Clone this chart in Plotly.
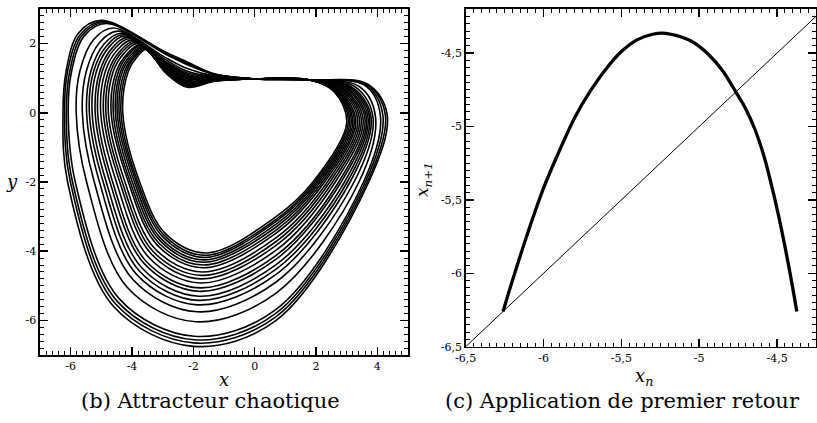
import plotly.graph_objects as go

W, H = 817, 423

# ---------------- (b) chaotic attractor: 22 loops, inner -> outer ----------------
loop_bottom_y = [-4.05, -4.12, -4.18, -4.25, -4.32, -4.40, -4.48, -4.60, -4.70, -4.80, -4.92,
                 -5.06, -5.16, -5.30, -5.42, -5.55, -5.75, -6.04, -6.46, -6.56, -6.65, -6.75]
loop_bottom_x = [-1.55, -1.58, -1.60, -1.62, -1.64, -1.66, -1.68, -1.70, -1.72, -1.74, -1.76,
                 -1.78, -1.80, -1.82, -1.84, -1.86, -1.88, -1.92, -1.97, -1.98, -1.99, -2.00]
left_x_at_0 = [-4.30, -4.36, -4.42, -4.48, -4.54, -4.61, -4.68, -4.77, -4.85, -4.93, -5.02,
               -5.12, -5.20, -5.30, -5.39, -5.48, -5.62, -5.82, -6.08, -6.14, -6.20, -6.25]
left_x_at_up = [-4.12, -4.18, -4.24, -4.31, -4.37, -4.44, -4.51, -4.61, -4.69, -4.77, -4.87,
                -4.97, -5.05, -5.16, -5.25, -5.34, -5.49, -5.70, -5.97, -6.03, -6.10, -6.15]
shoulder_x = [-3.85, -3.90, -3.94, -3.99, -4.04, -4.10, -4.15, -4.24, -4.31, -4.38, -4.46,
              -4.56, -4.63, -4.73, -4.81, -4.91, -5.05, -5.25, -5.55, -5.62, -5.68, -5.75]
shoulder_y = [1.60, 1.62, 1.63, 1.65, 1.67, 1.69, 1.71, 1.74, 1.77, 1.79, 1.83,
              1.86, 1.89, 1.92, 1.95, 1.99, 2.04, 2.12, 2.23, 2.25, 2.27, 2.30]
top_x = [-3.53, -3.57, -3.60, -3.64, -3.68, -3.72, -3.76, -3.83, -3.88, -3.94, -4.00,
         -4.08, -4.13, -4.21, -4.28, -4.35, -4.46, -4.61, -4.84, -4.90, -4.95, -5.00]
top_y = [1.83, 1.85, 1.87, 1.89, 1.91, 1.94, 1.96, 2.00, 2.03, 2.06, 2.10,
         2.14, 2.18, 2.22, 2.26, 2.30, 2.36, 2.45, 2.58, 2.61, 2.64, 2.67]
fold_y1 = [1.15, 1.17, 1.18, 1.19, 1.21, 1.23, 1.25, 1.27, 1.29, 1.32, 1.34,
           1.37, 1.40, 1.43, 1.45, 1.48, 1.53, 1.59, 1.69, 1.71, 1.73, 1.75]
fold_y2 = [0.74, 0.76, 0.78, 0.79, 0.81, 0.83, 0.86, 0.89, 0.92, 0.94, 0.98,
           1.01, 1.04, 1.08, 1.11, 1.15, 1.20, 1.28, 1.39, 1.42, 1.44, 1.47]
fold_y3 = [0.91, 0.92, 0.92, 0.93, 0.93, 0.94, 0.94, 0.95, 0.96, 0.97, 0.98,
           0.99, 1.00, 1.01, 1.02, 1.03, 1.04, 1.06, 1.10, 1.11, 1.11, 1.12]
corner_x = [2.60, 2.63, 2.65, 2.68, 2.71, 2.74, 2.77, 2.82, 2.87, 2.91, 2.95,
            3.01, 3.05, 3.11, 3.16, 3.21, 3.29, 3.41, 3.58, 3.62, 3.66, 3.70]
corner_y = [0.60, 0.61, 0.61, 0.62, 0.62, 0.63, 0.63, 0.64, 0.65, 0.66, 0.67,
            0.68, 0.69, 0.70, 0.71, 0.72, 0.74, 0.76, 0.80, 0.80, 0.81, 0.82]
right_x = [3.00, 3.05, 3.10, 3.15, 3.20, 3.25, 3.30, 3.36, 3.42, 3.48, 3.54,
           3.60, 3.65, 3.70, 3.75, 3.80, 3.86, 3.94, 4.10, 4.18, 4.26, 4.32]
right_y = [-0.30, -0.29, -0.29, -0.28, -0.28, -0.27, -0.26, -0.25, -0.24, -0.23, -0.22,
           -0.21, -0.20, -0.18, -0.17, -0.16, -0.14, -0.12, -0.08, -0.07, -0.06, -0.05]
right_x_at_m2 = [1.90, 1.96, 2.02, 2.08, 2.14, 2.21, 2.28, 2.37, 2.45, 2.54, 2.63,
                 2.74, 2.82, 2.93, 3.02, 3.11, 3.24, 3.40, 3.55, 3.61, 3.67, 3.72]
low_right_x = [0.70] * 22
low_right_y = [-3.00, -3.08, -3.14, -3.22, -3.30, -3.39, -3.48, -3.61, -3.72, -3.83, -3.97,
               -4.12, -4.23, -4.39, -4.52, -4.67, -4.89, -5.21, -5.68, -5.79, -5.89, -6.00]
low_left_x = [-2.90, -2.94, -2.98, -3.03, -3.07, -3.12, -3.17, -3.25, -3.31, -3.37, -3.45,
              -3.54, -3.60, -3.69, -3.76, -3.85, -3.97, -4.15, -4.42, -4.48, -4.54, -4.60]
low_left_y = [-3.50, -3.55, -3.60, -3.66, -3.71, -3.77, -3.83, -3.93, -4.01, -4.08, -4.18,
              -4.29, -4.36, -4.47, -4.57, -4.67, -4.82, -5.05, -5.37, -5.45, -5.52, -5.60]
left_x_at_m2 = [-3.75, -3.81, -3.86, -3.92, -3.99, -4.06, -4.12, -4.23, -4.32, -4.40, -4.51,
                -4.63, -4.72, -4.84, -4.94, -5.06, -5.23, -5.48, -5.85, -5.94, -6.01, -6.10]
band_x = [0.0, 1.8]
band_y = [0.98, 0.95]
fold_x = [-2.9, -2.2, -1.3]
side_levels = [0.0, 1.2, -2.0]

# ---------------- (c) first return map ----------------
ret_xn = [-6.26, -6.20, -6.10, -6.00, -5.90, -5.80, -5.70, -5.60, -5.50, -5.40, -5.30, -5.233,
          -5.15, -5.05, -4.95, -4.85, -4.765, -4.70, -4.64, -4.58, -4.52, -4.47, -4.42, -4.373]
ret_xn1 = [-6.26, -6.05, -5.72, -5.42, -5.17, -4.94, -4.76, -4.61, -4.49, -4.41, -4.372, -4.364,
           -4.38, -4.42, -4.50, -4.62, -4.765, -4.882, -5.026, -5.218, -5.47, -5.71, -5.98, -6.26]
diag = [-6.5, -4.2]

left_xticks = [-6, -4, -2, 0, 2, 4]
left_xticklabels = ["-6", "-4", "-2", "0", "2", "4"]
left_yticks = [2, 0, -2, -4, -6]
left_yticklabels = ["2", "0", "-2", "-4", "-6"]
right_ticks = [-6.5, -6.0, -5.5, -5.0, -4.5]
right_ticklabels = ["-6,5", "-6", "-5,5", "-5", "-4,5"]

fig = go.Figure()

for i in range(len(loop_bottom_y)):
    pts = [
        (band_x[0], band_y[0]),
        (band_x[1], band_y[1]),
        (corner_x[i], corner_y[i]),
        (right_x[i], right_y[i]),
        (right_x_at_m2[i], side_levels[2]),
        (low_right_x[i], low_right_y[i]),
        (loop_bottom_x[i], loop_bottom_y[i]),
        (low_left_x[i], low_left_y[i]),
        (left_x_at_m2[i], side_levels[2]),
        (left_x_at_0[i], side_levels[0]),
        (left_x_at_up[i], side_levels[1]),
        (shoulder_x[i], shoulder_y[i]),
        (top_x[i], top_y[i]),
        (fold_x[0], fold_y1[i]),
        (fold_x[1], fold_y2[i]),
        (fold_x[2], fold_y3[i]),
        (band_x[0], band_y[0]),
    ]
    fig.add_trace(go.Scatter(
        x=[p[0] for p in pts], y=[p[1] for p in pts],
        mode="lines", line=dict(color="black", width=1.6, shape="spline", smoothing=1.0),
        xaxis="x", yaxis="y", showlegend=False, hoverinfo="skip"))

fig.add_trace(go.Scatter(x=diag, y=diag, mode="lines",
                         line=dict(color="black", width=1), xaxis="x2", yaxis="y2",
                         showlegend=False, hoverinfo="skip"))
fig.add_trace(go.Scatter(x=ret_xn, y=ret_xn1, mode="lines",
                         line=dict(color="black", width=3.3, shape="spline", smoothing=1.0),
                         xaxis="x2", yaxis="y2", showlegend=False, hoverinfo="skip"))

SERIF = "DejaVu Serif"
tickfont = dict(family=SERIF, size=11, color="#000000")


def ax(dom, rng, anchor, tickvals, ticktext, minor_dtick):
    return dict(domain=dom, range=rng, anchor=anchor, tickmode="array", tickvals=tickvals,
                ticktext=ticktext,
                showgrid=False, zeroline=False, showline=True, linecolor="black", linewidth=1.6,
                mirror="allticks", ticks="inside", ticklen=8, tickwidth=1.5, tickcolor="#000000",
                showticklabels=True, tickfont=tickfont, automargin=False,
                minor=dict(ticks="inside", ticklen=4, tickwidth=1, tickcolor="#000000",
                           dtick=minor_dtick, tick0=0, showgrid=False))


def fx(px):
    return px / W


def fy(py):
    return 1 - py / H


fig.update_layout(
    template="simple_white",
    width=W, height=H, margin=dict(l=0, r=0, t=0, b=0, pad=0),
    paper_bgcolor="white", plot_bgcolor="white", showlegend=False,
    font=dict(family=SERIF, color="#000000"),
    xaxis=ax([fx(40), fx(408)], [-7, 5], "y", left_xticks, left_xticklabels, 0.2),
    yaxis=ax([fy(355), fy(9)], [-7, 3], "x", left_yticks, left_yticklabels, 0.2),
    xaxis2=ax([fx(465.7), fx(816)], [-6.5, -4.25], "y2", right_ticks, right_ticklabels, 0.05),
    yaxis2=ax([fy(346.7), fy(9)], [-6.5, -4.2], "x2", right_ticks, right_ticklabels, 0.05),
)


def ann(text, px, py, size, angle=0, family=SERIF):
    fig.add_annotation(text=text, x=fx(px), y=fy(py), xref="paper", yref="paper",
                       showarrow=False, textangle=angle, xanchor="center", yanchor="middle",
                       font=dict(family=family, size=size, color="black"))


ann("<i>x</i>", 224, 379, 18)
ann("<i>y</i>", 12, 181, 18)
ann("<i>x</i><sub><i>n</i></sub>", 644, 377, 18)
ann("<i>x</i><sub><i>n+1</i></sub>", 424, 180, 17, angle=-90)
ann("(b) Attracteur chaotique", 210, 401, 21)
ann("(c) Application de premier retour", 622, 401, 21)

# remove the page's default body margin so the figure fills the window exactly
fig.write_html("out.html",
               config={"displayModeBar": False, "staticPlot": True},
               post_script="document.body.style.margin='0';"
                           "document.body.style.overflow='hidden';")
